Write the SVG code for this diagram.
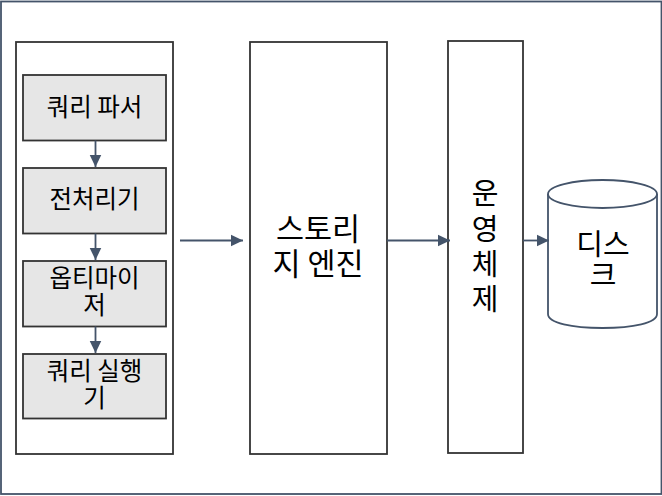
<svg xmlns="http://www.w3.org/2000/svg" width="662" height="496" viewBox="0 0 662 496">
<style>
text{font-family:"Noto Sans CJK KR","Liberation Sans",sans-serif;fill:#000;text-anchor:middle}
.s{font-size:24.500px}.l{font-size:30.500px}.x{font-size:29px}
.box{fill:#fff;stroke:#333;stroke-width:1.800}
.in{fill:#e6e6e6;stroke:#333;stroke-width:1.800}
.c{fill:none;stroke:#44546a;stroke-width:1.800}
.d{fill:#fff;stroke:#44546a;stroke-width:1.800}
</style>
<defs><marker id="a" markerUnits="userSpaceOnUse" markerWidth="13" markerHeight="13" refX="12.500" refY="6.500" orient="auto"><path d="M0 0.500L12.500 6.500L0 12.500Z" fill="#44546a"/></marker></defs>
<rect id="frame" class="d" x="1" y="1.500" width="660.500" height="492.500"/>
<g id="outer"><rect class="box" x="16" y="42" width="157" height="412"/></g>
<g id="parser"><rect class="in" x="23" y="75" width="143" height="65.500"/><text class="s" x="94.500" y="115.500">쿼리 파서</text></g>
<g id="preproc"><rect class="in" x="23" y="168" width="143" height="65.500"/><text class="s" x="94.500" y="207.500">전처리기</text></g>
<g id="optimizer"><rect class="in" x="23" y="261" width="143" height="65.500"/><text class="s" x="94.500" y="287">옵티마이</text><text class="s" x="94.500" y="314">저</text></g>
<g id="executor"><rect class="in" x="23" y="354" width="143" height="64.500"/><text class="s" x="94.500" y="380">쿼리 실행</text><text class="s" x="94.500" y="407">기</text></g>
<g id="storage"><rect class="box" x="250" y="42" width="137" height="412"/><text class="l" x="318" y="240">스토리</text><text class="l" x="318" y="275">지 엔진</text></g>
<g id="os"><rect class="box" x="448" y="41" width="75" height="412"/><text class="x" x="485" y="204">운</text><text class="x" x="485" y="240">영</text><text class="x" x="485" y="275">체</text><text class="x" x="485" y="310">제</text></g>
<g id="disk"><path class="d" d="M548 194V314C548 323 572 328 602.500 328S657 323 657 314V194"/><ellipse class="d" cx="602.500" cy="194" rx="54.500" ry="14"/><text class="x" x="603" y="255">디스</text><text class="x" x="603" y="286">크</text></g>
<g id="connectors">
<path class="c" marker-end="url(#a)" d="M95.500 140.500V167"/>
<path class="c" marker-end="url(#a)" d="M95.500 233.500V260"/>
<path class="c" marker-end="url(#a)" d="M95.500 326.500V353"/>
<path class="c" marker-end="url(#a)" d="M180 240.500H243"/>
<path class="c" marker-end="url(#a)" d="M387 240.500H450"/>
<path class="c" marker-end="url(#a)" d="M523 240.500H549"/>
</g>
</svg>
